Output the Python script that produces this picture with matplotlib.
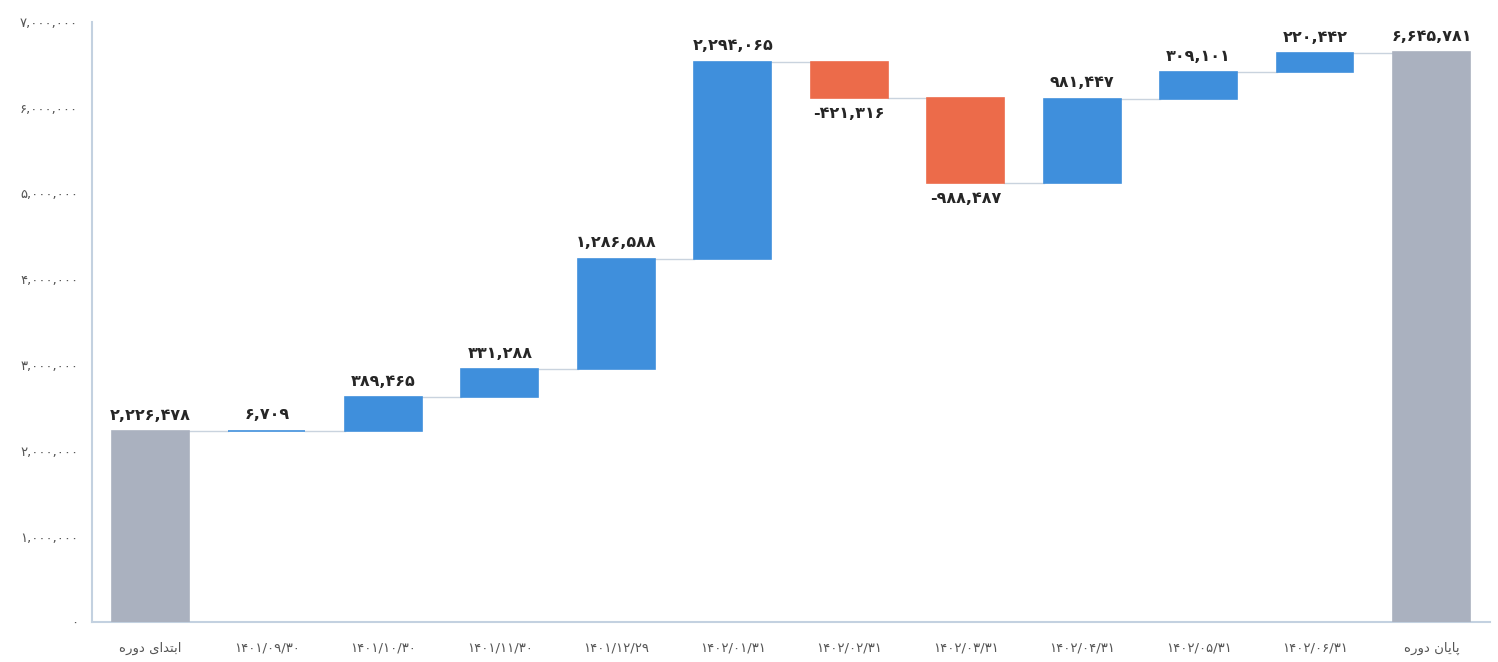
import matplotlib
matplotlib.use("Agg")
import matplotlib.pyplot as plt
from matplotlib.ticker import FuncFormatter

# داده‌ها
categories = ["ابتدای دوره", "۱۴۰۱/۰۹/۳۰", "۱۴۰۱/۱۰/۳۰", "۱۴۰۱/۱۱/۳۰", "۱۴۰۱/۱۲/۲۹",
              "۱۴۰۲/۰۱/۳۱", "۱۴۰۲/۰۲/۳۱", "۱۴۰۲/۰۳/۳۱", "۱۴۰۲/۰۴/۳۱", "۱۴۰۲/۰۵/۳۱",
              "۱۴۰۲/۰۶/۳۱", "پایان دوره"]
start_value = 2226478
changes = [6709, 389465, 331288, 1286588, 2294065, -421316, -988487, 981447, 309101, 220442]
end_value = 6645781

BLUE = "#3f8fdc"
RED = "#ec6b4a"
GRAY = "#aab1bf"

PERSIAN_DIGITS = str.maketrans("0123456789", "۰۱۲۳۴۵۶۷۸۹")

# فرم‌های نمایشی حروف (ایزوله، پایانی، آغازی، میانی) - فقط حروف لازم
FORMS = {
    "ا": ("\uFE8D", "\uFE8E", None, None),
    "ب": ("\uFE8F", "\uFE90", "\uFE91", "\uFE92"),
    "ت": ("\uFE95", "\uFE96", "\uFE97", "\uFE98"),
    "د": ("\uFEA9", "\uFEAA", None, None),
    "ر": ("\uFEAD", "\uFEAE", None, None),
    "و": ("\uFEED", "\uFEEE", None, None),
    "ه": ("\uFEE9", "\uFEEA", "\uFEEB", "\uFEEC"),
    "ن": ("\uFEE5", "\uFEE6", "\uFEE7", "\uFEE8"),
    "پ": ("\uFB56", "\uFB57", "\uFB58", "\uFB59"),
    "ی": ("\uFBFC", "\uFBFD", "\uFBFE", "\uFBFF"),
}


def shape_rtl(text):
    """ شکل‌دهی ساده حروف فارسی و برعکس کردن ترتیب برای نمایش """
    if not any(ch in FORMS for ch in text):
        return text
    out = []
    for i, ch in enumerate(text):
        if ch not in FORMS:
            out.append(ch)
            continue
        prev = text[i - 1] if i > 0 else ""
        nxt = text[i + 1] if i + 1 < len(text) else ""
        joins_prev = prev in FORMS and FORMS[prev][2] is not None
        joins_next = nxt in FORMS and FORMS[ch][2] is not None
        iso, fin, ini, med = FORMS[ch]
        if joins_prev and joins_next:
            out.append(med)
        elif joins_prev:
            out.append(fin)
        elif joins_next:
            out.append(ini)
        else:
            out.append(iso)
    return "".join(reversed(out))


def fa_num(v):
    return f"{v:,.0f}".translate(PERSIAN_DIGITS)


plt.rcParams["font.family"] = ["DejaVu Sans"]

fig = plt.figure(figsize=(14.98, 6.62), dpi=100)
ax = fig.add_axes([0.0615, 0.06, 0.933, 0.907])

n = len(categories)
width = 0.66

# محاسبه پایه و ارتفاع هر ستون
bottoms = [0]
heights = [start_value]
colors = [GRAY]
running = start_value
levels = [start_value]
for c in changes:
    if c >= 0:
        bottoms.append(running)
        colors.append(BLUE)
    else:
        bottoms.append(running + c)
        colors.append(RED)
    heights.append(abs(c))
    running += c
    levels.append(running)
bottoms.append(0)
heights.append(end_value)
colors.append(GRAY)
levels.append(end_value)

ax.bar(range(n), heights, bottom=bottoms, width=width, color=colors,
       edgecolor=colors, linewidth=1.2, zorder=3)

# خطوط اتصال
for i in range(n - 1):
    ax.plot([i + width / 2, i + 1 - width / 2], [levels[i], levels[i]],
            color="#c9d3de", lw=1.0, zorder=2)

# برچسب مقادیر
values = [start_value] + changes + [end_value]
for i, v in enumerate(values):
    if v >= 0:
        ax.annotate(fa_num(v), (i, bottoms[i] + heights[i]), xytext=(0, 6),
                    textcoords="offset points", ha="center", va="bottom",
                    fontsize=11.5, fontweight="bold", color="#262626")
    else:
        ax.annotate(fa_num(v), (i, bottoms[i]), xytext=(0, -6),
                    textcoords="offset points", ha="center", va="top",
                    fontsize=11.5, fontweight="bold", color="#262626")

ax.set_xlim(-0.5, n - 0.5)
ax.set_ylim(0, 7000000)
ax.set_yticks(range(0, 7000001, 1000000))
ax.yaxis.set_major_formatter(FuncFormatter(lambda v, p: fa_num(v)))
ax.set_xticks(range(n))
ax.set_xticklabels([shape_rtl(c) for c in categories])
ax.tick_params(axis="both", length=0, labelsize=9.5, labelcolor="#555555")
ax.tick_params(axis="x", pad=14)
ax.tick_params(axis="y", pad=10)

for s in ["top", "right"]:
    ax.spines[s].set_visible(False)
ax.spines["left"].set_color("#c3d1e0")
ax.spines["bottom"].set_color("#c3d1e0")
ax.spines["left"].set_linewidth(1.5)
ax.spines["bottom"].set_linewidth(1.5)

fig.savefig("out.png", dpi=100)
